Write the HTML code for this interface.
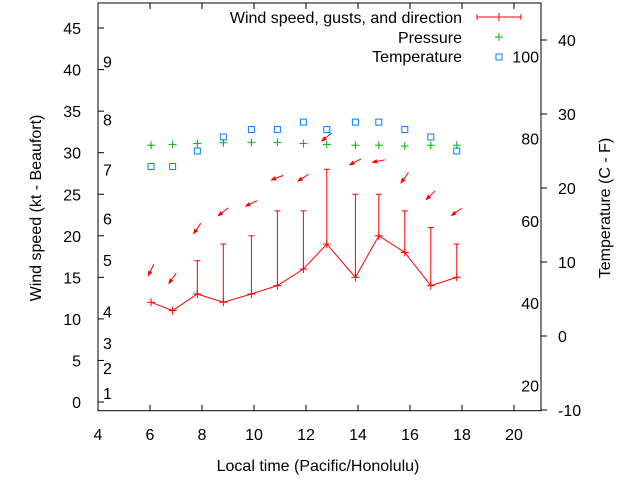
<!DOCTYPE html>
<html><head><meta charset="utf-8"><style>
body{margin:0;background:#fff;}
svg{display:block;font-family:"Liberation Sans",sans-serif;font-size:16px;}
</style></head><body>
<svg id="c" width="640" height="480"></svg>
<script>
const hours=[6.04,6.87,7.82,8.82,9.9,10.9,11.9,12.8,13.9,14.8,15.8,16.8,17.8];
const wind=[12,11,13,12,13,14,16,19,15,20,18,14,15];
const gusts=[null,null,17,19,20,23,23,28,25,25,23,21,19];
const pressure=[30.9,31,31.1,31.2,31.25,31.25,31.1,31,30.9,30.9,30.8,30.9,30.9];
const tempC=[22.9,22.9,25,26.9,27.9,27.9,28.9,27.9,28.9,28.9,27.9,26.9,25];
const arrowPos=[15.9,14.9,20.9,22.9,23.9,27,27,31.9,28.9,29,27,24.9,22.9];
const windDir=[26,36,35,53,65,69,58,51,63,79,36,47,55];
const xTicks=[4,6,8,10,12,14,16,18,20];
const yTicks=[0,5,10,15,20,25,30,35,40,45];
const cTicks=[-10,0,10,20,30,40];
const fTicks=[20,40,60,80,100];
const beaufort=[[1,1.1],[2,4.1],[3,7.1],[4,10.9],[5,17.1],[6,22.1],[7,28],[8,34],[9,41]];

const L=98,R=541,T=3,B=410.7;
const X=v=>L+(v-4)*26;
const Y=v=>402-v*8.31;
const YC=v=>410-(v+10)*7.4;
const YF=f=>YC((f-32)*5/9);
const svg=document.getElementById('c');
const NS='http://www.w3.org/2000/svg';
function el(tag,attrs,parent){const e=document.createElementNS(NS,tag);for(const k in attrs)e.setAttribute(k,attrs[k]);(parent||svg).appendChild(e);return e;}
function txt(s,x,y,anchor,parent){const t=el('text',{x:x,y:y,'text-anchor':anchor||'start'},parent);t.textContent=s;return t;}

const frame=el('rect',{x:L,y:T,width:R-L,height:B-T,fill:'none',stroke:'#000','stroke-width':1});



const gx=el('g',{});


xTicks.forEach(v=>{
  el('line',{x1:X(v),x2:X(v),y1:B,y2:B-6,stroke:'#000'},gx);
  el('line',{x1:X(v),x2:X(v),y1:T,y2:T+6,stroke:'#000'},gx);
  const t=txt(String(v),X(v),440,'middle',gx);
  
  
});
const gy=el('g',{});


yTicks.forEach(v=>{
  el('line',{x1:L,x2:L+6,y1:Y(v),y2:Y(v),stroke:'#000'},gy);
  const t=txt(String(v),81,Y(v)+6,'end',gy);
  
  
});
beaufort.forEach(b=>{
  const t=txt(String(b[0]),103,Y(b[1])+6,'start',gy);
  
  
});
const gr=el('g',{});


cTicks.forEach(v=>{
  el('line',{x1:R,x2:R+6,y1:YC(v),y2:YC(v),stroke:'#000'},gr);
  const t=txt(String(v),558,YC(v)+6,'start',gr);
  
  
});
fTicks.forEach(v=>{
  const t=txt(String(v),539,YF(v)+6,'end',gr);
  
  
});

const xt=txt('Local time (Pacific/Honolulu)',318,471,'middle');


const yt=txt('Wind speed (kt - Beaufort)',0,0,'middle');
yt.setAttribute('transform','translate(41,208) rotate(-90)');


const rt=txt('Temperature (C - F)',0,0,'middle');
rt.setAttribute('transform','translate(610,208) rotate(-90)');



const red='#f00';
const gw=el('g',{stroke:red,fill:'none'});


hours.forEach((h,i)=>{
  if(gusts[i]!=null){
    el('line',{x1:X(h),x2:X(h),y1:Y(wind[i]),y2:Y(gusts[i])},gw);
    el('line',{x1:X(h)-3,x2:X(h)+3,y1:Y(gusts[i]),y2:Y(gusts[i])},gw);
  }
  el('line',{x1:X(h)-4,x2:X(h)+4,y1:Y(wind[i]),y2:Y(wind[i])},gw);
  el('line',{x1:X(h),x2:X(h),y1:Y(wind[i])-4,y2:Y(wind[i])+4},gw);
});
const wl=el('polyline',{points:hours.map((h,i)=>X(h)+','+Y(wind[i])).join(' '),stroke:red,fill:'none'},gw);



const ga=el('g',{stroke:red,fill:red});


hours.forEach((h,i)=>{
  const a=windDir[i]*Math.PI/180, len=12.5;
  const ux=Math.sin(a), uy=-Math.cos(a);
  const cx=X(h), cy=Y(arrowPos[i]);
  const tx=cx+ux*len/2, ty=cy+uy*len/2, hx=cx-ux*len/2, hy=cy-uy*len/2;
  el('line',{x1:tx,y1:ty,x2:hx,y2:hy},ga);
  const px=-uy, py=ux;
  el('polygon',{points:`${hx},${hy} ${hx+ux*4+px*1.5},${hy+uy*4+py*1.5} ${hx+ux*4-px*1.5},${hy+uy*4-py*1.5}`},ga);
});

const gp=el('g',{stroke:'#00b000'});


hours.forEach((h,i)=>{
  el('line',{x1:X(h)-4,x2:X(h)+4,y1:Y(pressure[i]),y2:Y(pressure[i])},gp);
  el('line',{x1:X(h),x2:X(h),y1:Y(pressure[i])-4,y2:Y(pressure[i])+4},gp);
});
const gtp=el('g',{stroke:'#0080ff',fill:'none'});


hours.forEach((h,i)=>{
  el('rect',{x:X(h)-3,y:YC(tempC[i])-3,width:6,height:6},gtp);
});

const lg=el('g',{});


txt('Wind speed, gusts, and direction',462,23,'end',lg);
el('line',{x1:477,x2:521,y1:17,y2:17,stroke:red},lg);
el('line',{x1:477,x2:477,y1:14,y2:20,stroke:red},lg);
el('line',{x1:521,x2:521,y1:14,y2:20,stroke:red},lg);
el('line',{x1:499,x2:499,y1:13,y2:21,stroke:red},lg);
txt('Pressure',462,43,'end',lg);
el('line',{x1:495,x2:503,y1:37,y2:37,stroke:'#00b000'},lg);
el('line',{x1:499,x2:499,y1:33,y2:41,stroke:'#00b000'},lg);
txt('Temperature',462,62,'end',lg);
el('rect',{x:496,y:54,width:6,height:6,stroke:'#0080ff',fill:'none'},lg);
</script>
</body></html>
